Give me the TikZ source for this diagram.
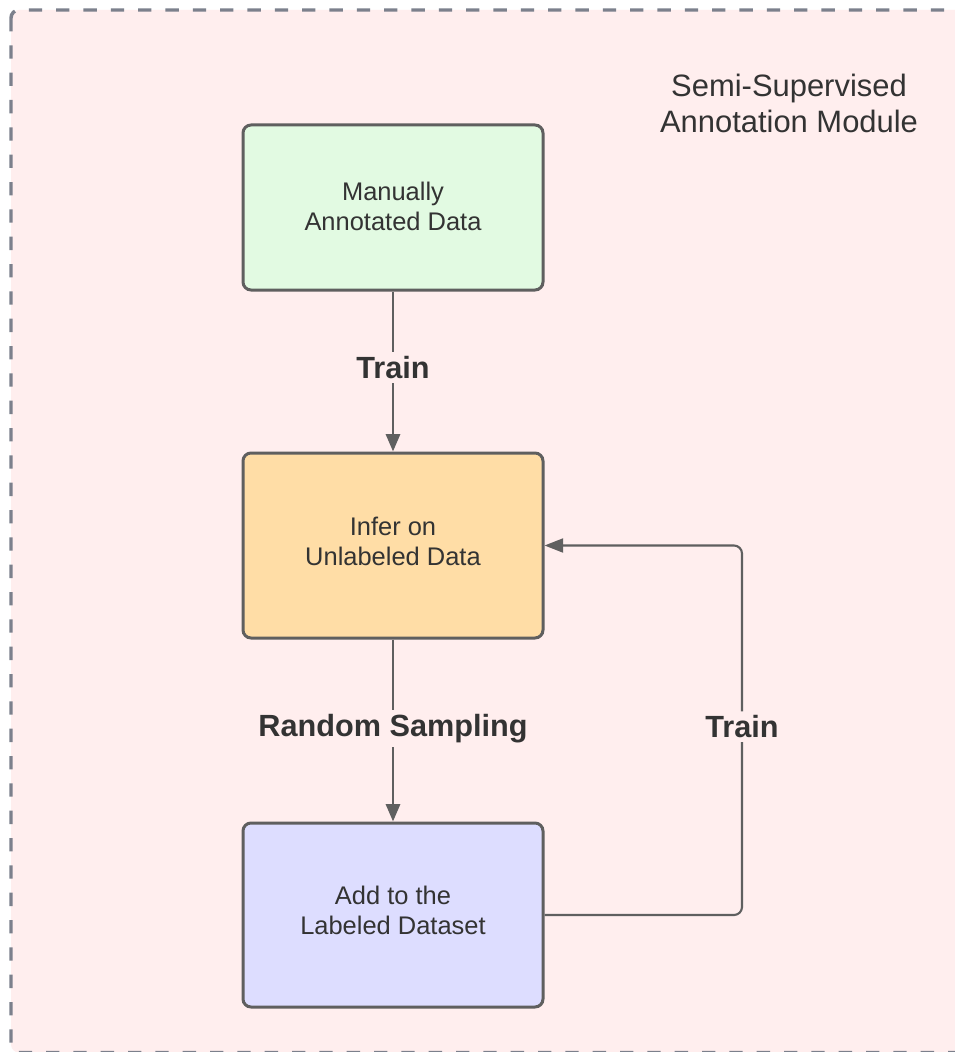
\documentclass[tikz,border=0pt]{standalone}
\usepackage{fontspec}
\setmainfont{Liberation Sans}
\usetikzlibrary{arrows.meta}
\definecolor{bgpink}{HTML}{FFEEEE}
\definecolor{framegray}{HTML}{7C808C}
\definecolor{boxline}{HTML}{5F5F5F}
\definecolor{txt}{HTML}{333333}
\definecolor{fgreen}{HTML}{E2FAE2}
\definecolor{forange}{HTML}{FFDDA6}
\definecolor{fblue}{HTML}{DDDDFF}
\newcommand{\lowstrut}[1]{\rule[-#1]{0pt}{0pt}}
\tikzset{
  procbox/.style={draw=boxline, line width=2.25pt, rounded corners=6pt,
    minimum width=225pt, align=center, text=txt,
    font=\fontsize{19.1}{22.5}\selectfont},
  conn/.style={draw=boxline, line width=2.1pt,
    -{Triangle[width=10.5pt,length=13pt]}},
  loopconn/.style={draw=boxline, line width=1.6pt, rounded corners=6pt,
    -{Triangle[width=10.5pt,length=14pt]}},
  lab/.style={fill=bgpink, text=txt, inner sep=3pt,
    font=\bfseries\fontsize{23}{27}\selectfont},
}
\begin{document}
\begin{tikzpicture}[x=0.75pt,y=-0.75pt]
\useasboundingbox (0,0) rectangle (955,1052);
\clip (0,0) rectangle (955,1052);
\fill[white] (0,0) rectangle (955,1052);
\draw[draw=framegray, fill=bgpink, line width=2.6pt, rounded corners=6pt,
  dash pattern=on 10pt off 10.5pt] (11,10) rectangle (975,1052.5);
\node[text=txt, align=center, font=\fontsize{23.2}{27}\selectfont] (title) at (789,103)
  {Semi-Supervised\\Annotation Module};
\node[procbox, fill=fgreen, minimum height=123.75pt] (b1) at (393,207.5)
  {Manually\\Annotated Data\lowstrut{2pt}};
\node[procbox, fill=forange, minimum height=138.75pt] (b2) at (393,545.5)
  {Infer on\\Unlabeled Data\lowstrut{6.5pt}};
\node[procbox, fill=fblue, minimum height=138pt] (b3) at (393,915)
  {Add to the\\Labeled Dataset\lowstrut{7pt}};
\coordinate (k) at (742,545.5);
\draw[conn] (b1.south) -- node[lab, yshift=3pt] (l1) {Train} (b2.north);
\draw[conn] (b2.south) -- node[lab, yshift=1.5pt] (l2) {Random Sampling} (b3.north);
\draw[loopconn] (b3.east) -| node[lab, pos=0.755] (l3) {Train} (k) -- (b2.east);
\end{tikzpicture}
\end{document}
